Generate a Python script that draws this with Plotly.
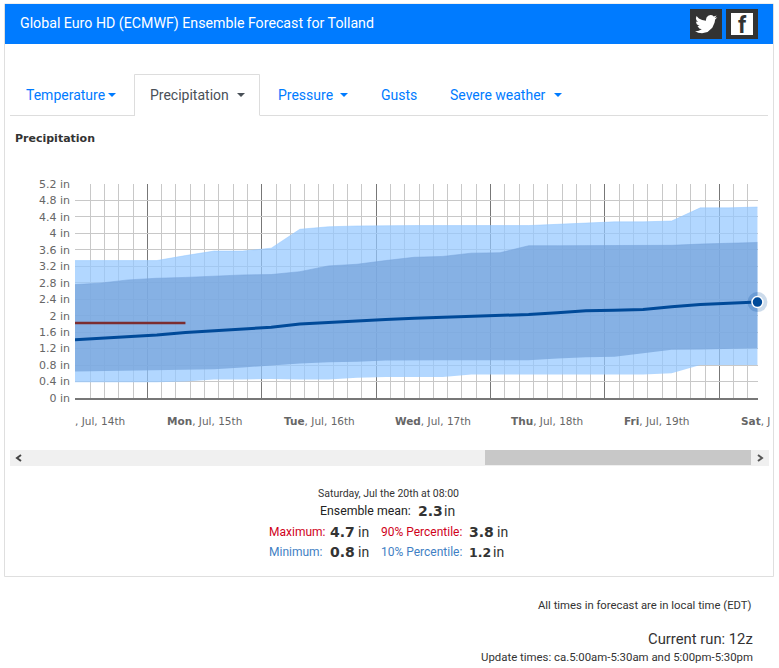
import plotly.graph_objects as go

W, H = 779, 668

# forecast steps, every 6 hours
times = [
    "2019-07-14 08:00", "2019-07-14 14:00", "2019-07-14 20:00", "2019-07-15 02:00", "2019-07-15 08:00",
    "2019-07-15 14:00", "2019-07-15 20:00", "2019-07-16 02:00", "2019-07-16 08:00", "2019-07-16 14:00",
    "2019-07-16 20:00", "2019-07-17 02:00", "2019-07-17 08:00", "2019-07-17 14:00", "2019-07-17 20:00",
    "2019-07-18 02:00", "2019-07-18 08:00", "2019-07-18 14:00", "2019-07-18 20:00", "2019-07-19 02:00",
    "2019-07-19 08:00", "2019-07-19 14:00", "2019-07-19 20:00", "2019-07-20 02:00", "2019-07-20 08:00",
]
maximum = [3.34, 3.34, 3.34, 3.34, 3.46, 3.57, 3.57, 3.64, 4.10, 4.16, 4.18, 4.19, 4.19,
           4.19, 4.19, 4.19, 4.19, 4.22, 4.25, 4.28, 4.28, 4.30, 4.62, 4.62, 4.64]
p90 = [2.75, 2.79, 2.87, 2.91, 2.93, 2.96, 2.99, 3.00, 3.07, 3.21, 3.25, 3.34, 3.42,
       3.44, 3.52, 3.53, 3.70, 3.70, 3.70, 3.70, 3.70, 3.71, 3.74, 3.76, 3.78]
mean = [1.41, 1.45, 1.49, 1.53, 1.59, 1.63, 1.68, 1.72, 1.80, 1.84, 1.87, 1.91, 1.94,
        1.96, 1.98, 2.01, 2.03, 2.07, 2.12, 2.13, 2.15, 2.22, 2.27, 2.30, 2.33]
p10 = [0.64, 0.65, 0.67, 0.68, 0.68, 0.70, 0.74, 0.79, 0.84, 0.87, 0.88, 0.91, 0.92,
       0.92, 0.92, 0.92, 0.92, 0.96, 0.99, 1.00, 1.08, 1.17, 1.18, 1.20, 1.21]
minimum = [0.38, 0.38, 0.38, 0.38, 0.40, 0.45, 0.45, 0.46, 0.45, 0.45, 0.49, 0.51, 0.51,
           0.51, 0.57, 0.57, 0.57, 0.57, 0.57, 0.57, 0.57, 0.60, 0.80, 0.80, 0.80]
current_times = times[:5]
current = [1.82, 1.82, 1.82, 1.82, 1.82]

day_labels = ["<b>Mon</b>, Jul, 15th", "<b>Tue</b>, Jul, 16th", "<b>Wed</b>, Jul, 17th",
              "<b>Thu</b>, Jul, 18th", "<b>Fri</b>, Jul, 19th"]

FONT = "Roboto"
AXIS_FONT = "DejaVu Sans"
BLUE = "#007bff"


def px(x):
    return x / W


def py(y):
    return 1 - y / H


def rect(x0, y0, x1, y1, fill=None, line=None, width=1):
    return dict(
        type="rect", xref="paper", yref="paper", x0=px(x0), x1=px(x1), y0=py(y0), y1=py(y1),
        fillcolor=fill or "rgba(0,0,0,0)", line=dict(color=line or "rgba(0,0,0,0)", width=width if line else 0),
        layer="below",
    )


def poly(points, fill=None, line=None, width=1, closed=True):
    path = "M" + " L".join(f"{px(x):.5f},{py(y):.5f}" for x, y in points)
    if closed:
        path += " Z"
    return dict(
        type="path", xref="paper", yref="paper", path=path,
        fillcolor=fill or "rgba(0,0,0,0)", line=dict(color=line or "rgba(0,0,0,0)", width=width if line else 0),
        layer="above",
    )


def label(x, y, text, size=12, color="#333", anchor="left", family=FONT):
    return dict(
        xref="paper", yref="paper", x=px(x), y=py(y), text=text, showarrow=False,
        xanchor=anchor, yanchor="middle", align=anchor, borderpad=0, borderwidth=0,
        font=dict(family=family, size=size, color=color),
    )


def caret(x0, x1, y, color):
    return poly([(x0, y - 2), (x1, y - 2), ((x0 + x1) / 2, y + 2)], fill=color)


fig = go.Figure()

# ensemble spread
fig.add_trace(go.Scatter(x=times, y=minimum, mode="lines", line=dict(width=0), hoverinfo="skip", showlegend=False))
fig.add_trace(go.Scatter(x=times, y=maximum, mode="lines", fill="tonexty", line=dict(width=1, color="rgba(148,199,255,0.5)"),
                         fillcolor="rgba(148,199,255,0.72)", name="Maximum", showlegend=False))
fig.add_trace(go.Scatter(x=times, y=p10, mode="lines", line=dict(width=0), hoverinfo="skip", showlegend=False))
fig.add_trace(go.Scatter(x=times, y=p90, mode="lines", fill="tonexty", line=dict(width=1, color="rgba(119,164,219,0.5)"),
                         fillcolor="rgba(119,164,219,0.75)", name="90% Percentile", showlegend=False))

# mean and current run
fig.add_trace(go.Scatter(x=current_times, y=current, mode="lines", line=dict(color="#7b2d30", width=2.5), showlegend=False))
fig.add_trace(go.Scatter(x=times, y=mean, mode="lines", line=dict(color="#004a99", width=3), showlegend=False))
fig.add_trace(go.Scatter(x=times[-1:], y=mean[-1:], mode="markers", cliponaxis=False, showlegend=False,
                         marker=dict(size=20, color="rgba(0,74,153,0.2)")))
fig.add_trace(go.Scatter(x=times[-1:], y=mean[-1:], mode="markers", cliponaxis=False, showlegend=False,
                         marker=dict(size=11, color="#004a99", line=dict(color="white", width=1.5))))

# page furniture, all in pixel positions of the screenshot
shapes = [
    rect(4.5, 4, 773.5, 576.5, fill="white", line="#dfdfdf"),
    rect(5, 4, 773, 44, fill=BLUE),
    rect(690, 9, 722, 39, fill="#333333"),
    rect(726, 9, 758, 39, fill="#333333"),
    rect(731, 13, 753, 35, fill="white"),
    rect(10, 450, 769, 466, fill="#f0f0f0"),
    rect(485, 450, 751, 465, fill="#c8c8c8"),
    poly([(10, 115.5), (135, 115.5)], line="#dddddd", closed=False),
    poly([(260, 115.5), (768, 115.5)], line="#dddddd", closed=False),
    poly([(134.5, 115.5), (134.5, 74.5), (259.5, 74.5), (259.5, 115.5)], line="#dddddd", closed=False),
    caret(108, 116, 95, BLUE),
    caret(237, 245, 95, "#495057"),
    caret(340, 348, 95, BLUE),
    caret(554, 562, 95, BLUE),
    poly([(21, 455), (17, 458), (21, 461)], line="#444444", width=2, closed=False),
    poly([(758, 455), (762, 458), (758, 461)], line="#555555", width=2, closed=False),
]

# twitter bird, drawn on a 24 unit box
bird = [
    (23.95, 4.57), (21.13, 5.35), (23.29, 2.62), (20.16, 3.81), (18.6, 2.55), (16.57, 2.25), (14.2, 2.95),
    (12.4, 4.9), (11.78, 7.2), (11.78, 8.29), (7.7, 7.6), (4.2, 5.9), (1.64, 3.16), (0.97, 5.64), (1.5, 7.9),
    (3.16, 9.73), (0.93, 9.12), (0.93, 9.18), (1.9, 12.1), (4.88, 14), (2.67, 14.09), (4.6, 16.6), (7.27, 17.5),
    (4.0, 19.2), (1.17, 19.6), (0, 19.54), (3.5, 21.2), (7.56, 21.75), (13.5, 20.5), (18.6, 15.8), (21.0, 10.5),
    (21.55, 7.77), (21.54, 7.14),
]
shapes.append(poly([(695 + bx * 0.93, 13 + by * 0.93) for bx, by in bird], fill="white"))

annotations = [
    label(20, 24, "Global Euro HD (ECMWF) Ensemble Forecast for Tolland", size=14.2, color="white"),
    label(742, 25, "<b>f</b>", size=23, color="#333333", anchor="center"),
    label(26, 95, "Temperature", size=14, color=BLUE),
    label(150, 95, "Precipitation", size=14, color="#495057"),
    label(278, 95, "Pressure", size=14, color=BLUE),
    label(381, 95, "Gusts", size=14, color=BLUE),
    label(450, 95, "Severe weather", size=14, color=BLUE),
    label(15, 138, "<b>Precipitation</b>", size=11, color="#333333", family=AXIS_FONT),
    label(75, 421, ", Jul, 14th", size=10.5, color="#666666", family=AXIS_FONT),
    label(741, 421, "<b>Sat</b>, J", size=10.5, color="#666666", family=AXIS_FONT),
    label(388, 493, "Saturday, Jul the 20th at 08:00", size=10.5, color="#333333", anchor="center"),
    label(320, 511, "Ensemble mean:", size=12.3, color="#222222"),
    label(418, 511, "<b>2.3</b>", size=14, color="#333333", family=AXIS_FONT),
    label(444, 511, "in", size=14, color="#333333"),
    label(269, 532, "Maximum:", size=12, color="#d0021b"),
    label(330, 532, "<b>4.7</b>", size=14, color="#333333", family=AXIS_FONT),
    label(358, 532, "in", size=14, color="#333333"),
    label(381, 532, "90% Percentile:", size=12, color="#d0021b"),
    label(469, 532, "<b>3.8</b>", size=14, color="#333333", family=AXIS_FONT),
    label(497, 532, "in", size=14, color="#333333"),
    label(269, 552, "Minimum:", size=12, color="#3f7fc4"),
    label(330, 552, "<b>0.8</b>", size=14, color="#333333", family=AXIS_FONT),
    label(358, 552, "in", size=14, color="#333333"),
    label(381, 552, "10% Percentile:", size=12, color="#3f7fc4"),
    label(469, 552, "<b>1.2</b>", size=12.5, color="#333333", family=AXIS_FONT),
    label(493, 552, "in", size=14, color="#333333"),
    label(752, 605, "All times in forecast are in local time (EDT)", size=11.3, color="#333333", anchor="right"),
    label(753, 639, "Current run: 12z", size=14.8, color="#333333", anchor="right"),
    label(753, 657, "Update times: ca.5:00am-5:30am and 5:00pm-5:30pm", size=11.4, color="#333333", anchor="right"),
]
for text, x in zip(day_labels, [204, 319, 433, 547, 656]):
    annotations.append(label(x, 421, text, size=10.5, color="#666666", anchor="center", family=AXIS_FONT))

fig.update_layout(
    width=W,
    height=H,
    margin=dict(l=0, r=0, t=0, b=0, autoexpand=False),
    paper_bgcolor="white",
    plot_bgcolor="white",
    showlegend=False,
    shapes=shapes,
    annotations=annotations,
    xaxis=dict(
        domain=[px(75), px(758)],
        type="date",
        range=["2019-07-14 08:50", "2019-07-20 08:07"],
        dtick=86400000,
        tick0="2019-07-15",
        showgrid=True,
        gridcolor="#777777",
        gridwidth=1,
        minor=dict(dtick=10800000, showgrid=True, gridcolor="#c8c8c8", gridwidth=1),
        showticklabels=False,
        ticks="",
        showline=True,
        linecolor="#777777",
        linewidth=2,
        zeroline=False,
    ),
    yaxis=dict(
        domain=[py(398), py(184)],
        range=[0, 5.2],
        dtick=0.4,
        tick0=0,
        ticksuffix=" in",
        gridcolor="#c8c8c8",
        gridwidth=1,
        zeroline=False,
        showline=False,
        ticks="",
        ticklabelstandoff=4,
        tickfont=dict(family=AXIS_FONT, size=11, color="#666666"),
    ),
)

fig.write_html(
    "out.html",
    config={"displayModeBar": False},
    post_script="document.body.style.margin='0';document.body.style.overflow='hidden';",
)
